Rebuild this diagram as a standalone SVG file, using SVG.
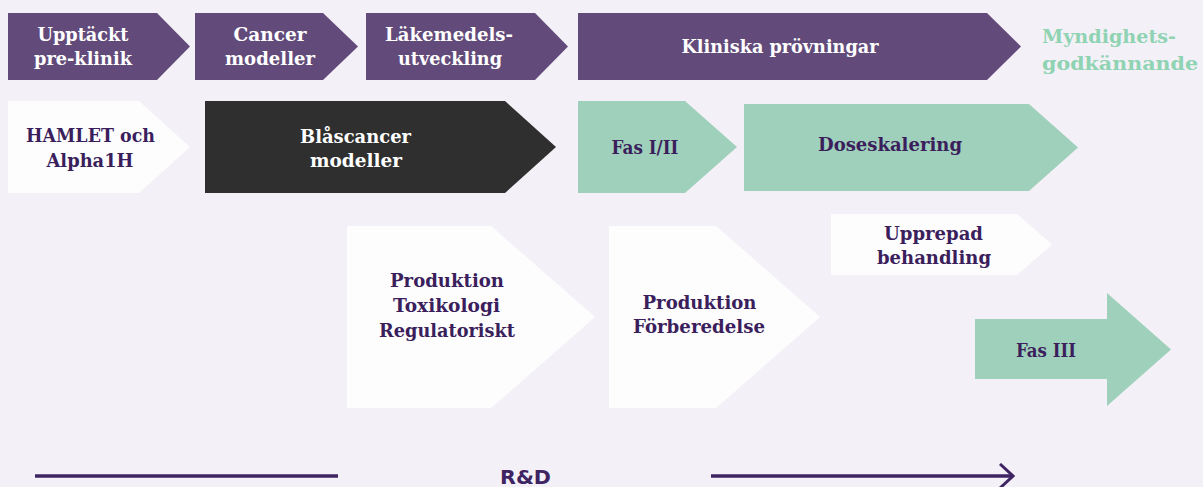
<svg xmlns="http://www.w3.org/2000/svg" width="1203" height="487" viewBox="0 0 1203 487">
<style>
.bg{fill:#F3F1F7}
.pur{fill:#624B7A}
.wht{fill:#FDFDFE}
.blk{fill:#2F2F2F}
.grn{fill:#9FD0BB}
text{font-family:"DejaVu Serif","Liberation Serif",serif;font-weight:bold;font-size:18px;text-anchor:middle}
.tw{fill:#FFFFFF}
.td{fill:#3B1F5C}
.tg{fill:#8FD3B3;text-anchor:start}
.line{stroke:#3F2463;stroke-width:3.3;fill:none}
.rd{font-family:"DejaVu Sans","Liberation Sans",sans-serif;font-size:20px;fill:#3F2463}
</style>
<defs>
<marker id="open" viewBox="0 0 16 26" refX="14" refY="13" markerWidth="16" markerHeight="26" markerUnits="userSpaceOnUse" orient="auto">
<path d="M1,1 L14,13 L1,25" fill="none" stroke="#3F2463" stroke-width="3"/>
</marker>
</defs>
<rect class="bg" x="0" y="0" width="1203" height="487"/>

<g id="upptackt">
<polygon class="pur" points="8,13 157,13 190,46.5 157,80 8,80"/>
<text class="tw" x="83" y="41" textLength="91" lengthAdjust="spacingAndGlyphs">Upptäckt</text>
<text class="tw" x="83" y="65" textLength="98" lengthAdjust="spacingAndGlyphs">pre-klinik</text>
</g>
<g id="cancer-modeller">
<polygon class="pur" points="195,13 323,13 358,46.5 323,80 195,80"/>
<text class="tw" x="270" y="41" textLength="73" lengthAdjust="spacingAndGlyphs">Cancer</text>
<text class="tw" x="270" y="65" textLength="90" lengthAdjust="spacingAndGlyphs">modeller</text>
</g>
<g id="lakemedelsutveckling">
<polygon class="pur" points="366,13 535,13 568,46.5 535,80 366,80"/>
<text class="tw" x="449" y="41" textLength="128" lengthAdjust="spacingAndGlyphs">Läkemedels-</text>
<text class="tw" x="450" y="65" textLength="104" lengthAdjust="spacingAndGlyphs">utveckling</text>
</g>
<g id="kliniska-provningar">
<polygon class="pur" points="578,13 987,13 1021,46.5 987,80 578,80"/>
<text class="tw" x="780" y="53" textLength="197" lengthAdjust="spacingAndGlyphs">Kliniska prövningar</text>
</g>
<g id="myndighetsgodkannande">
<text class="tg" x="1042" y="43" textLength="134" lengthAdjust="spacingAndGlyphs">Myndighets-</text>
<text class="tg" x="1042" y="70" textLength="156" lengthAdjust="spacingAndGlyphs">godkännande</text>
</g>

<g id="hamlet">
<polygon class="wht" points="8,101 139,101 190,147 139,193 8,193"/>
<text class="td" x="90.5" y="142" textLength="129" lengthAdjust="spacingAndGlyphs">HAMLET och</text>
<text class="td" x="90" y="167" textLength="87" lengthAdjust="spacingAndGlyphs">Alpha1H</text>
</g>
<g id="blascancer-modeller">
<polygon class="blk" points="205,101 505,101 556,147 505,193 205,193"/>
<text class="tw" x="355.5" y="143" textLength="111" lengthAdjust="spacingAndGlyphs">Blåscancer</text>
<text class="tw" x="356" y="167" textLength="92" lengthAdjust="spacingAndGlyphs">modeller</text>
</g>
<g id="fas-1-2">
<polygon class="grn" points="578,101 685,101 737,147 685,193 578,193"/>
<text class="td" x="645" y="154" textLength="67" lengthAdjust="spacingAndGlyphs">Fas I/II</text>
</g>
<g id="doseskalering">
<polygon class="grn" points="744,104 1029,104 1078,147.5 1029,191 744,191"/>
<text class="td" x="890" y="151" textLength="144" lengthAdjust="spacingAndGlyphs">Doseskalering</text>
</g>

<g id="produktion-toxikologi">
<polygon class="wht" points="347,226 491,226 595,317 491,408 347,408"/>
<text class="td" x="447" y="287" textLength="114" lengthAdjust="spacingAndGlyphs">Produktion</text>
<text class="td" x="446.5" y="312" textLength="107" lengthAdjust="spacingAndGlyphs">Toxikologi</text>
<text class="td" x="447" y="337" textLength="136" lengthAdjust="spacingAndGlyphs">Regulatoriskt</text>
</g>
<g id="produktion-forberedelse">
<polygon class="wht" points="609,226 716,226 820,317 716,408 609,408"/>
<text class="td" x="699.5" y="309" textLength="114" lengthAdjust="spacingAndGlyphs">Produktion</text>
<text class="td" x="699" y="333" textLength="132" lengthAdjust="spacingAndGlyphs">Förberedelse</text>
</g>
<g id="upprepad-behandling">
<polygon class="wht" points="831,214 1017,214 1052,244.5 1017,275 831,275"/>
<text class="td" x="933.5" y="240" textLength="99" lengthAdjust="spacingAndGlyphs">Upprepad</text>
<text class="td" x="934" y="264" textLength="114" lengthAdjust="spacingAndGlyphs">behandling</text>
</g>
<g id="fas-3">
<polygon class="grn" points="975,319 1107,319 1107,293 1171,349.5 1107,406 1107,379 975,379"/>
<text class="td" x="1046" y="357" textLength="60" lengthAdjust="spacingAndGlyphs">Fas III</text>
</g>

<g id="connectors">
<line class="line" x1="35" y1="476" x2="338" y2="476"/>
<line class="line" x1="711" y1="476" x2="1013" y2="476" marker-end="url(#open)"/>
</g>
<g id="rd-label">
<text class="rd" x="525.5" y="484" textLength="51" lengthAdjust="spacingAndGlyphs">R&amp;D</text>
</g>
</svg>
